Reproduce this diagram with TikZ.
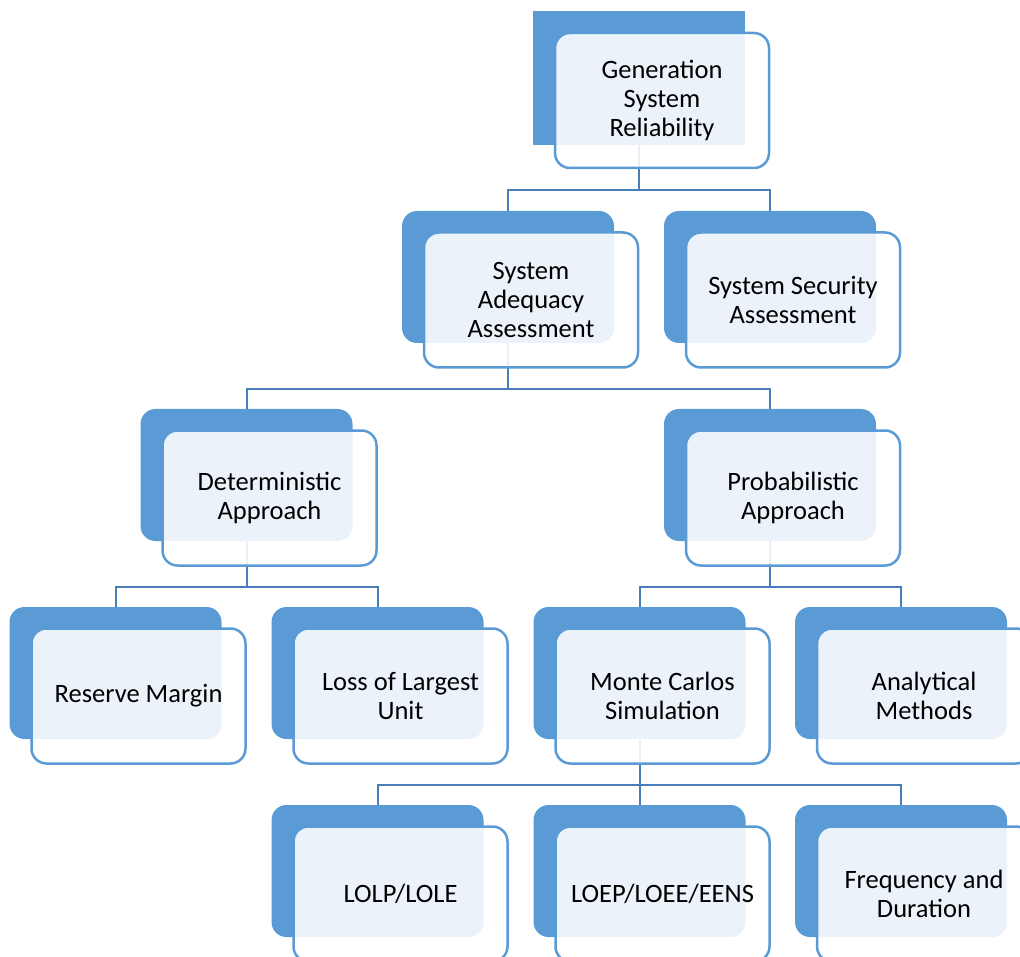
\documentclass[tikz,border=0pt]{standalone}
\usepackage{fontspec}
\setmainfont{Carlito}
\usepackage{xcolor}
\definecolor{OfficeBlue}{HTML}{5B9BD5}
\definecolor{LinkBlue}{HTML}{4A7EBB}

\begin{document}
\begin{tikzpicture}[x=1pt,y=-1pt,
	backbox/.style={fill=OfficeBlue, draw=none, rounded corners=15pt, minimum width=212pt, minimum height=132pt, inner sep=0pt},
	frontbox/.style={fill=white, fill opacity=0.88, text opacity=1, draw=OfficeBlue, line width=2.5pt, rounded corners=15pt, minimum width=214pt, minimum height=135pt, inner sep=0pt, align=center, font=\fontsize{26.5}{29}\selectfont},
	link/.style={draw=LinkBlue, line width=2pt}]
		\clip (0,0) rectangle (1020,957);
		%Back boxes
		\begin{scope}
			\clip (0,12) rectangle (1020,957);
			\node[backbox, minimum height=150pt, rounded corners=0pt] (gsrb) at (639,70) {};
		\end{scope}
		\node[backbox] (sab) at (508,277) {};
		\node[backbox] (ssb) at (770,277) {};
		\node[backbox] (dab) at (246.5,475) {};
		\node[backbox] (pab) at (770,475) {};
		\node[backbox] (rmb) at (115.5,673) {};
		\node[backbox] (llb) at (377.5,673) {};
		\node[backbox] (mcb) at (639.5,673) {};
		\node[backbox] (amb) at (901,673) {};
		\node[backbox] (lolpb) at (377.5,871) {};
		\node[backbox] (loepb) at (639.5,871) {};
		\node[backbox] (fdb) at (901,871) {};
		%Connectors
		\draw[link] (gsrb.south) -- ++(0,45) -| (sab.north);
		\draw[link] (gsrb.south) -- ++(0,45) -| (ssb.north);
		\draw[link] (sab.south) -- ++(0,46) -| (dab.north);
		\draw[link] (sab.south) -- ++(0,46) -| (pab.north);
		\draw[link] (dab.south) -- ++(0,46) -| (rmb.north);
		\draw[link] (dab.south) -- ++(0,46) -| (llb.north);
		\draw[link] (pab.south) -- ++(0,46) -| (mcb.north);
		\draw[link] (pab.south) -- ++(0,46) -| (amb.north);
		\draw[link] (mcb.south) -- ++(0,46) -| (lolpb.north);
		\draw[link] (mcb.south) -- ++(0,46) -| (loepb.north);
		\draw[link] (mcb.south) -- ++(0,46) -| (fdb.north);
		%Front boxes with labels
		\node[frontbox] (gsr) at ([shift={(23,30.5)}]gsrb.center) {Generation\\System\\Reliability};
		\node[frontbox] (sa) at ([shift={(23,23)}]sab.center) {System\\Adequacy\\Assessment};
		\node[frontbox] (ss) at ([shift={(23,23)}]ssb.center) {System Security\\Assessment};
		\node[frontbox] (da) at ([shift={(23,23)}]dab.center) {Deterministic\\Approach};
		\node[frontbox] (pa) at ([shift={(23,23)}]pab.center) {Probabilistic\\Approach};
		\node[frontbox] (rm) at ([shift={(23,23)}]rmb.center) {Reserve Margin};
		\node[frontbox] (ll) at ([shift={(23,23)}]llb.center) {Loss of Largest\\Unit};
		\node[frontbox] (mc) at ([shift={(23,23)}]mcb.center) {Monte Carlos\\Simulation};
		\node[frontbox] (am) at ([shift={(23,23)}]amb.center) {Analytical\\Methods};
		\node[frontbox] (lolp) at ([shift={(23,23)}]lolpb.center) {LOLP/LOLE};
		\node[frontbox] (loep) at ([shift={(23,23)}]loepb.center) {LOEP/LOEE/EENS};
		\node[frontbox] (fd) at ([shift={(23,23)}]fdb.center) {Frequency and\\Duration};
	\end{tikzpicture}
\end{document}
